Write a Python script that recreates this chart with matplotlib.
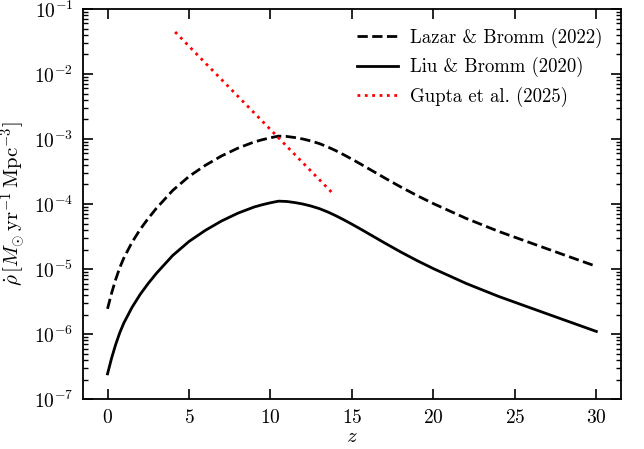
import numpy as np
import matplotlib
matplotlib.use("Agg")
import matplotlib.pyplot as plt
from matplotlib.ticker import LogLocator, NullFormatter, MultipleLocator

plt.rcParams["font.family"] = "serif"
plt.rcParams["font.serif"] = ["cmr10"]
plt.rcParams["mathtext.fontset"] = "cm"
plt.rcParams["axes.formatter.use_mathtext"] = True
plt.rcParams["axes.unicode_minus"] = False

# Pop III star formation rate density vs redshift
z_liu = [0, 0.25, 0.5, 0.75, 1, 1.5, 2, 2.5, 3, 4, 5, 6, 7, 8, 9, 9.5, 10, 10.5,
         11, 11.5, 12, 12.5, 13, 13.5, 14, 14.5, 15, 15.5, 16, 17, 18, 19, 20,
         22, 24, 26, 28, 30]
sfrd_liu = [2.45e-7, 4.27e-7, 6.92e-7, 1.05e-6, 1.48e-6, 2.57e-6, 4.07e-6,
            6.03e-6, 8.61e-6, 1.62e-5, 2.66e-5, 3.94e-5, 5.50e-5, 7.24e-5,
            9.02e-5, 9.77e-5, 1.047e-4, 1.109e-4, 1.096e-4, 1.054e-4, 1.00e-4,
            9.31e-5, 8.51e-5, 7.59e-5, 6.64e-5, 5.73e-5, 4.90e-5, 4.17e-5,
            3.53e-5, 2.53e-5, 1.83e-5, 1.35e-5, 1.016e-5, 6.03e-6, 3.80e-6,
            2.51e-6, 1.66e-6, 1.10e-6]

z_lazar = [0, 0.25, 0.5, 0.75, 1, 1.5, 2, 2.5, 3, 4, 5, 6, 7, 8, 9, 9.5, 10, 10.5,
           11, 11.5, 12, 12.5, 13, 13.5, 14, 14.5, 15, 15.5, 16, 17, 18, 19, 20,
           22, 24, 26, 28, 30]
sfrd_lazar = [2.45e-6, 4.27e-6, 6.92e-6, 1.05e-5, 1.48e-5, 2.57e-5, 4.07e-5,
              6.03e-5, 8.61e-5, 1.62e-4, 2.66e-4, 3.94e-4, 5.50e-4, 7.24e-4,
              9.02e-4, 9.77e-4, 1.047e-3, 1.109e-3, 1.096e-3, 1.054e-3, 1.00e-3,
              9.31e-4, 8.51e-4, 7.59e-4, 6.64e-4, 5.73e-4, 4.90e-4, 4.17e-4,
              3.53e-4, 2.53e-4, 1.83e-4, 1.35e-4, 1.016e-4, 6.03e-5, 3.80e-5,
              2.51e-5, 1.66e-5, 1.10e-5]

z_gupta = [4.15, 6, 8, 10, 12, 13.8]
sfrd_gupta = [4.43e-2, 1.48e-2, 4.55e-3, 1.40e-3, 4.28e-4, 1.48e-4]

fig = plt.figure(figsize=(6.44, 4.49), dpi=100)
ax = fig.add_axes([0.129, 0.111, 0.835, 0.869])

ax.plot(z_lazar, sfrd_lazar, color="black", ls="--", lw=2.0, label="Lazar & Bromm (2022)")
ax.plot(z_liu, sfrd_liu, color="black", ls="-", lw=2.0, label="Liu & Bromm (2020)")
ax.plot(z_gupta, sfrd_gupta, color="red", ls=":", lw=2.0, label="Gupta et al. (2025)")

ax.set_yscale("log")
ax.set_xlim(-1.5, 31.5)
ax.set_ylim(1e-7, 1e-1)
ax.xaxis.set_major_locator(MultipleLocator(5))
ax.yaxis.set_major_locator(LogLocator(base=10, numticks=10))
ax.yaxis.set_minor_locator(LogLocator(base=10, subs=np.arange(2, 10), numticks=10))
ax.yaxis.set_minor_formatter(NullFormatter())

ax.tick_params(which="both", direction="in", top=True, right=True, labelsize=14)
ax.tick_params(which="major", length=7, width=1.2, pad=7)
ax.tick_params(which="minor", length=3.5, width=1.0)
ax.tick_params(axis="x", which="minor", bottom=False, top=False)
for sp in ax.spines.values():
    sp.set_linewidth(1.3)

ax.set_xlabel(r"$z$", fontsize=15, labelpad=1)
ax.set_ylabel(r"$\dot{\rho}\,[M_{\odot}\,\mathrm{yr}^{-1}\,\mathrm{Mpc}^{-3}]$", fontsize=15)

ax.legend(loc="upper right", frameon=False, fontsize=13.5, handlelength=2.2,
          handletextpad=0.6, labelspacing=0.5, borderaxespad=0.6)

fig.savefig("out.png", dpi=100)
